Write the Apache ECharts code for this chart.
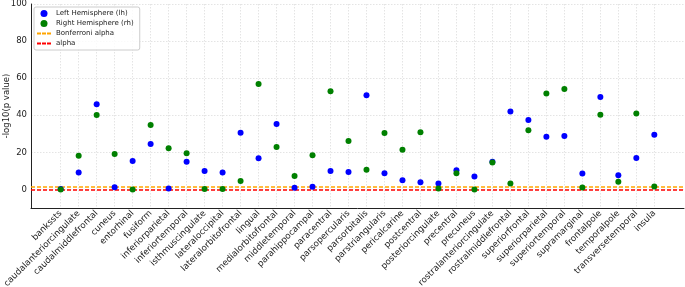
<!DOCTYPE html>
<html>
<head>
<meta charset="utf-8">
<script src="https://cdn.jsdelivr.net/npm/echarts@6/dist/echarts.min.js"></script>
<style>
  html, body { margin: 0; padding: 0; background: #fff; }
  #chart { width: 685px; height: 287px; }
</style>
</head>
<body>
<div id="chart"></div>
<script>
const regions = [
  'bankssts', 'caudalanteriorcingulate', 'caudalmiddlefrontal', 'cuneus', 'entorhinal',
  'fusiform', 'inferiorparietal', 'inferiortemporal', 'isthmuscingulate', 'lateraloccipital',
  'lateralorbitofrontal', 'lingual', 'medialorbitofrontal', 'middletemporal', 'parahippocampal',
  'paracentral', 'parsopercularis', 'parsorbitalis', 'parstriangularis', 'pericalcarine',
  'postcentral', 'posteriorcingulate', 'precentral', 'precuneus', 'rostralanteriorcingulate',
  'rostralmiddlefrontal', 'superiorfrontal', 'superiorparietal', 'superiortemporal', 'supramarginal',
  'frontalpole', 'temporalpole', 'transversetemporal', 'insula'
];

// -log10(p) per region
const lhValues = [
  0.2, 9.2, 45.9, 1.2, 15.3, 24.5, 0.5, 14.9, 9.9, 9.2,
  30.6, 16.8, 35.3, 0.9, 1.4, 9.9, 9.4, 50.8, 8.8, 5.0,
  3.9, 3.2, 10.4, 7.0, 15.0, 42.0, 37.5, 28.4, 28.8, 8.6,
  49.9, 7.7, 16.9, 29.5
];
const rhValues = [
  0.0, 18.2, 40.2, 19.1, 0.0, 34.8, 22.2, 19.5, 0.2, 0.2,
  4.5, 56.8, 22.9, 7.2, 18.4, 53.0, 26.1, 10.6, 30.4, 21.4,
  30.8, 0.5, 8.8, 0.0, 14.6, 3.2, 31.9, 51.7, 54.2, 1.1,
  40.3, 4.1, 40.9, 1.6
];

const bonferroniAlpha = 1.4;
const alpha = 0.05;

const yTicks = [0, 20, 40, 60, 80, 100];
const xTicks = regions.map((_, i) => i);

const font = 'DejaVu Sans';
const textColor = '#222';
const dashIcon = 'path://M0,0h4v1.8h-4z M5,0h4v1.8h-4z M10,0h4v1.8h-4z';

const chart = echarts.init(document.getElementById('chart'));

const toPoints = vals => vals.map((v, i) => [i, v]);

// threshold lines, drawn under the points
const hLine = (name, value, color) => ({
  name,
  type: 'line',
  data: [],
  symbol: 'none',
  z: 1,
  color,
  lineStyle: { color, type: [4, 2], width: 1.6 },
  itemStyle: { color },
  markLine: {
    silent: true,
    symbol: 'none',
    z: 1,
    label: { show: false },
    lineStyle: { color, type: [4, 2], width: 1.6, opacity: 1 },
    data: [{ yAxis: value }]
  }
});

chart.setOption({
  animation: false,
  backgroundColor: '#fff',
  textStyle: { fontFamily: font },
  grid: { left: 31, right: 1, top: 4, bottom: 79, containLabel: false, outerBoundsMode: 'none' },
  legend: {
    orient: 'vertical',
    left: 34,
    top: 7,
    itemGap: 3,
    itemWidth: 14,
    itemHeight: 7,
    padding: [3, 6, 3, 3],
    borderColor: '#ccc',
    borderWidth: 1,
    borderRadius: 2,
    backgroundColor: 'rgba(255,255,255,0.8)',
    textStyle: { fontFamily: font, fontSize: 7, color: textColor },
    data: [
      { name: 'Left Hemisphere (lh)', icon: 'circle' },
      { name: 'Right Hemisphere (rh)', icon: 'circle' },
      { name: 'Bonferroni alpha', icon: dashIcon },
      { name: 'alpha', icon: dashIcon }
    ]
  },
  xAxis: {
    type: 'value',
    min: -1.65,
    max: 34.65,
    axisLine: { onZero: false, lineStyle: { color: '#222', width: 1 } },
    axisTick: { show: false, customValues: xTicks },
    axisLabel: {
      customValues: xTicks,
      rotate: 45,
      margin: 4,
      fontFamily: font,
      fontSize: 8.7,
      color: textColor,
      formatter: v => regions[Math.round(v)]
    },
    splitLine: { show: true, lineStyle: { color: '#ddd', type: [1.5, 1.5], width: 0.8 } }
  },
  yAxis: {
    type: 'value',
    min: -10,
    max: 100,
    name: '-log10(p value)',
    nameLocation: 'middle',
    nameRotate: 90,
    nameGap: 20,
    nameMoveOverlap: false,
    nameTextStyle: { fontFamily: font, fontSize: 8.5, color: textColor },
    axisLine: { show: true, onZero: false, lineStyle: { color: '#222', width: 1 } },
    axisTick: { show: false, customValues: yTicks },
    axisLabel: { customValues: yTicks, margin: 4, fontFamily: font, fontSize: 8.5, color: textColor },
    splitLine: { show: true, lineStyle: { color: '#ddd', type: [1.5, 1.5], width: 0.8 } }
  },
  series: [
    {
      name: 'Left Hemisphere (lh)',
      type: 'scatter',
      symbolSize: 6,
      z: 3,
      itemStyle: { color: '#0000ff', opacity: 1 },
      data: toPoints(lhValues)
    },
    {
      name: 'Right Hemisphere (rh)',
      type: 'scatter',
      symbolSize: 6,
      z: 4,
      itemStyle: { color: '#008000', opacity: 1 },
      data: toPoints(rhValues)
    },
    hLine('Bonferroni alpha', bonferroniAlpha, '#ffa500'),
    hLine('alpha', alpha, '#ff0000')
  ]
});
</script>
</body>
</html>
